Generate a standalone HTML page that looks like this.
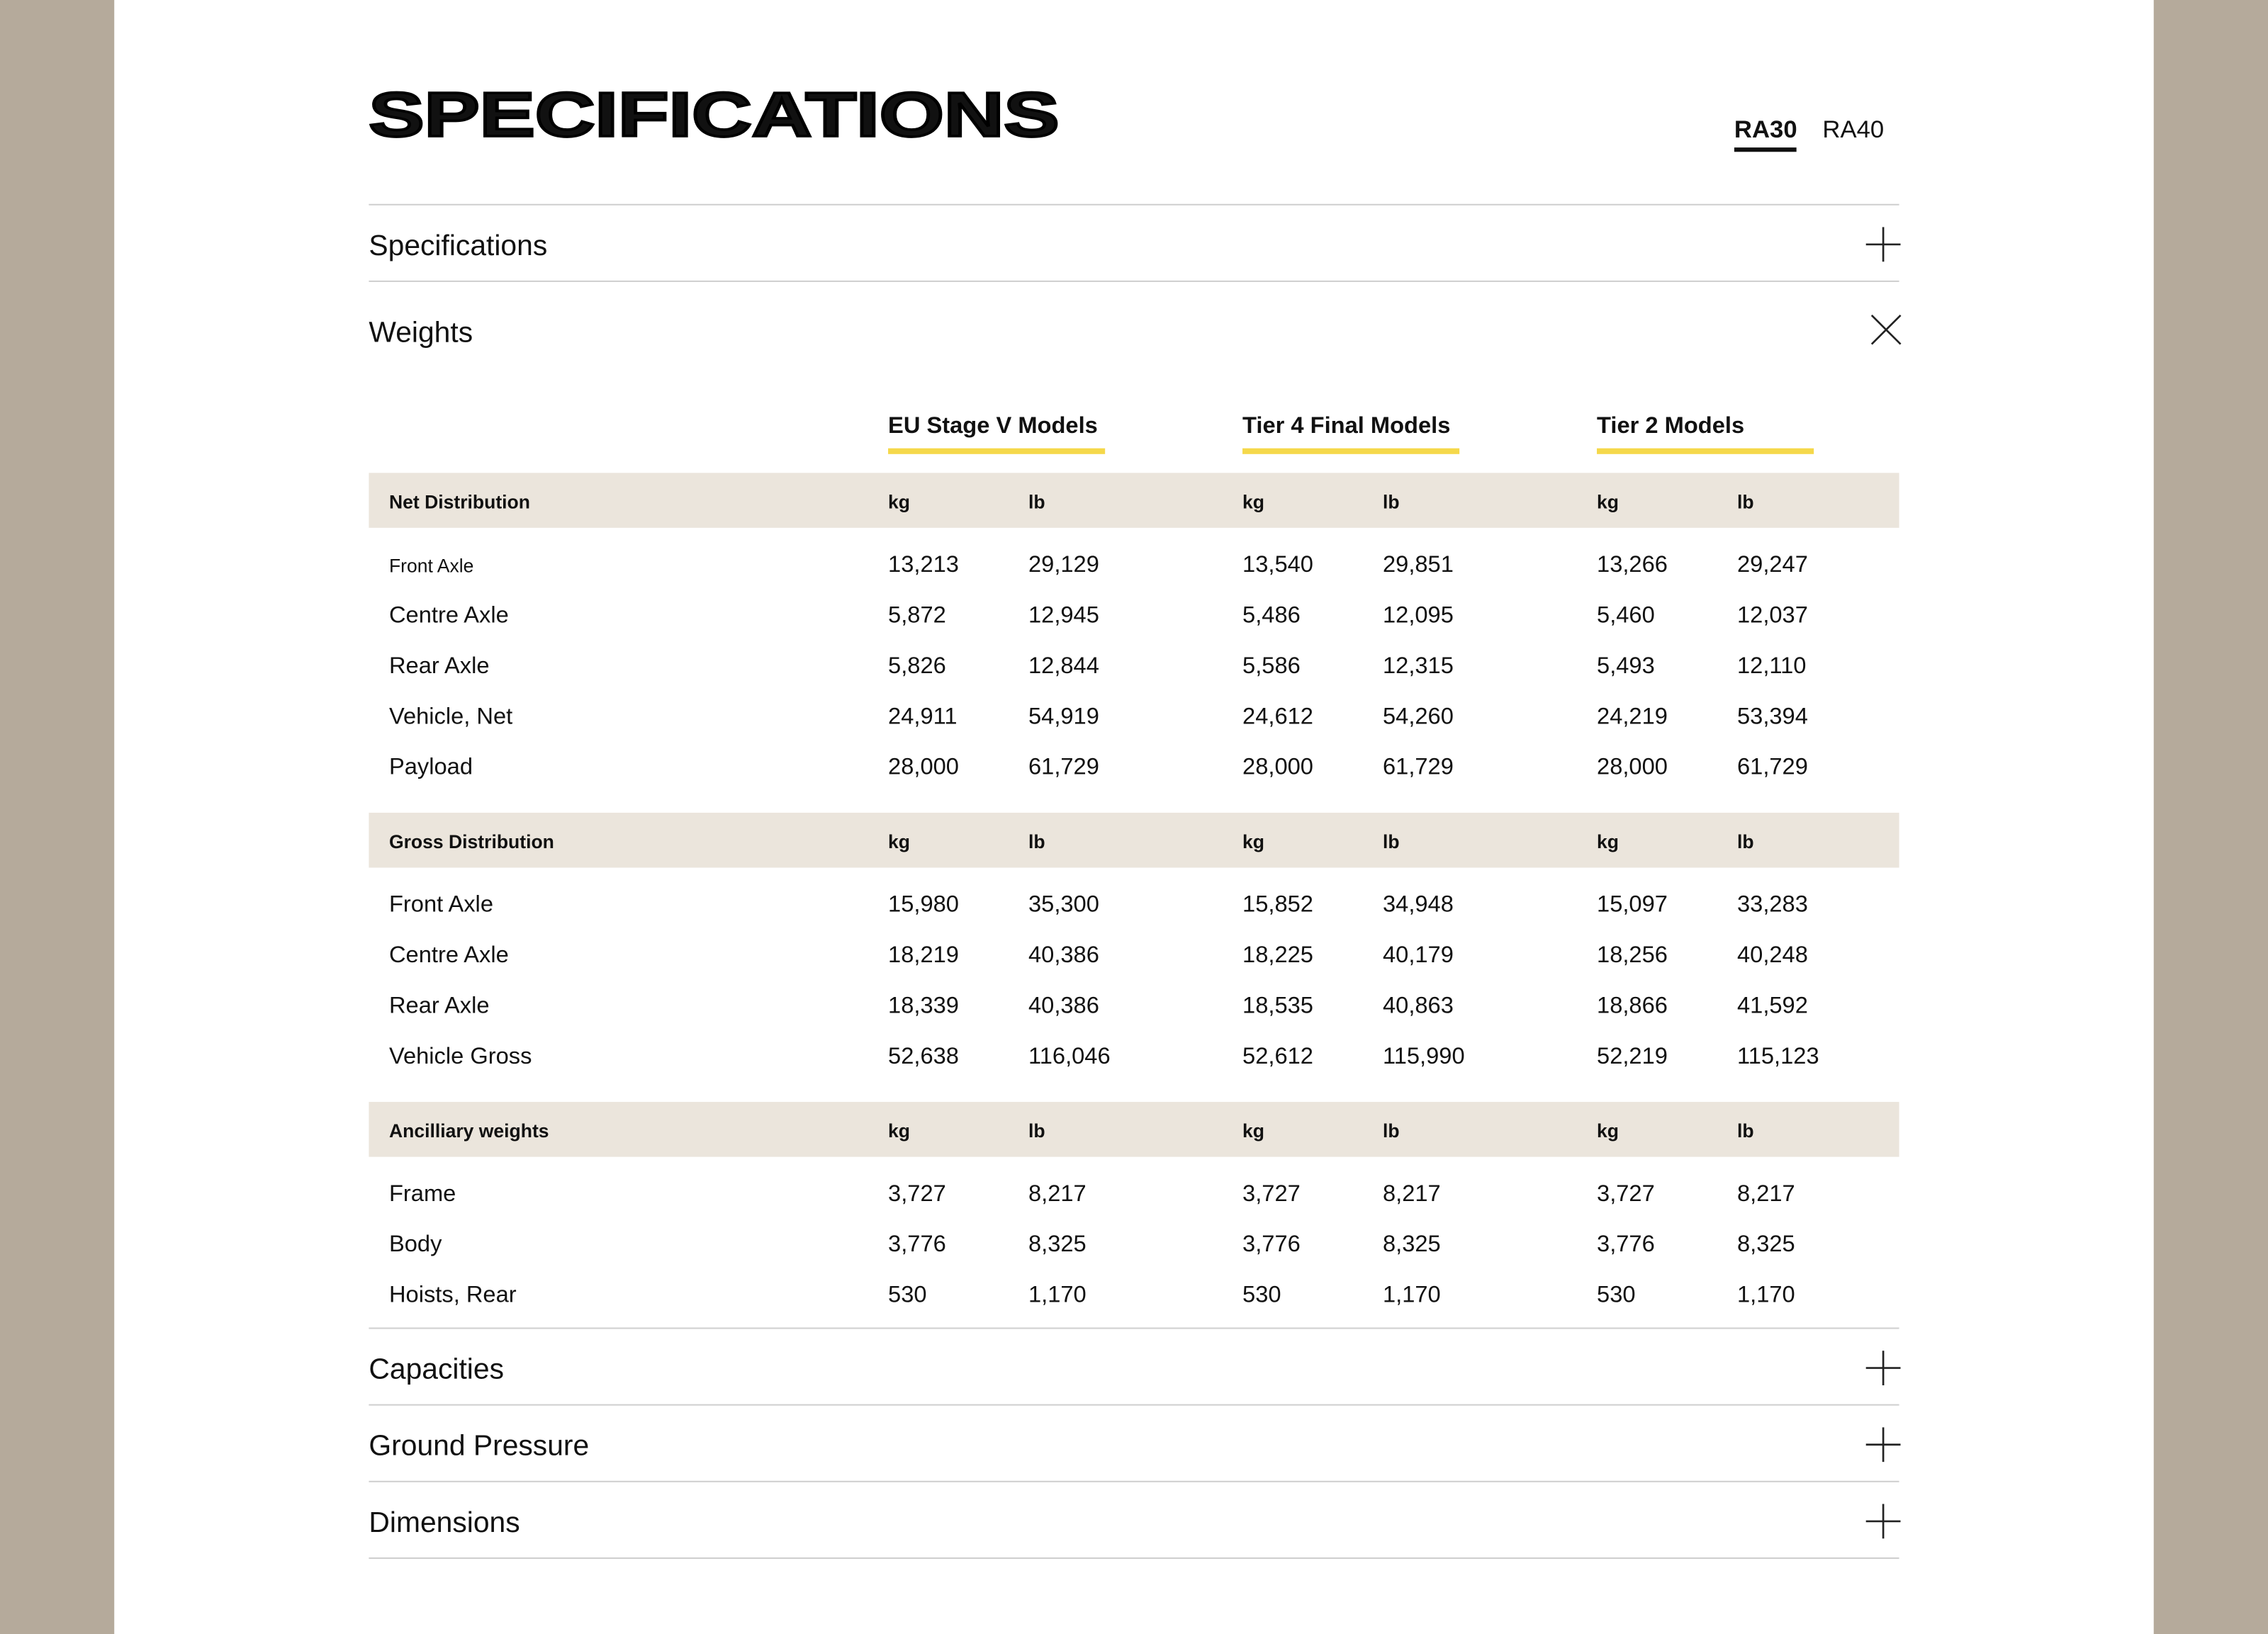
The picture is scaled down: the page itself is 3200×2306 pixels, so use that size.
<!DOCTYPE html>
<html><head><meta charset="utf-8"><style>
html,body{margin:0;padding:0;}
body{width:3200px;height:2306px;overflow:hidden;background:#b5aa9b;}
#w{position:absolute;left:0;top:0;width:1568px;height:1130px;transform:scale(2.0408);transform-origin:0 0;font-family:"Liberation Sans",sans-serif;color:#111;}
.panel{position:absolute;left:79px;top:0;width:1410px;height:1130px;background:#fff;}
.a{position:absolute;white-space:nowrap;}
.line{position:absolute;left:255px;width:1058px;height:1px;background:#cfcfcf;}
.band{position:absolute;left:255px;width:1058px;height:38px;background:#ebe5dc;}
.sec{font-size:20px;transform:translateY(-42%);}
.h{font-size:13px;font-weight:bold;transform:translateY(-50%);}
.d{font-size:16px;transform:translateY(-42%);}
.ul{position:absolute;height:4px;background:#f5d84a;width:150px;top:310px;}
.ch{font-size:16px;font-weight:bold;transform:translateY(-42%);}
</style></head><body><div id="w">
<div class="panel"></div>
<div class="a" style="left:255px;top:55px;font-size:43px;line-height:50px;font-weight:900;-webkit-text-stroke:1.8px #000;transform:scaleX(1.335);transform-origin:0 0;">SPECIFICATIONS</div>
<div class="a" style="left:1199px;top:80px;font-size:17px;font-weight:bold;">RA30</div>
<div class="a" style="left:1199px;top:102px;width:43px;height:3px;background:#111;"></div>
<div class="a" style="left:1260px;top:80px;font-size:17px;">RA40</div>
<div class="line" style="top:141px"></div>
<div class="a sec" style="left:255px;top:169px">Specifications</div>
<svg class="a" style="left:1290px;top:157px" width="24" height="24"><path d="M12 0V24M0 12H24" stroke="#222" stroke-width="1.3"/></svg>
<div class="line" style="top:194px"></div>
<div class="a sec" style="left:255px;top:229px">Weights</div>
<svg class="a" style="left:1293px;top:217px" width="22" height="22"><path d="M1 1L21 21M21 1L1 21" stroke="#222" stroke-width="1.3"/></svg>
<div class="a ch" style="left:614px;top:294px">EU Stage V Models</div>
<div class="a ch" style="left:859px;top:294px">Tier 4 Final Models</div>
<div class="a ch" style="left:1104px;top:294px">Tier 2 Models</div>
<div class="ul" style="left:614px"></div><div class="ul" style="left:859px"></div><div class="ul" style="left:1104px"></div>

<div class="band" style="top:327px"></div>
<div class="band" style="top:562px"></div>
<div class="band" style="top:762px"></div>

<div class="a h" style="left:269px;top:347px">Net Distribution</div>
<div class="a h" style="left:269px;top:582px">Gross Distribution</div>
<div class="a h" style="left:269px;top:782px">Ancilliary weights</div>

<div class="line" style="top:918px"></div>
<div class="a sec" style="left:255px;top:946px">Capacities</div>
<svg class="a" style="left:1290px;top:934px" width="24" height="24"><path d="M12 0V24M0 12H24" stroke="#222" stroke-width="1.3"/></svg>
<div class="line" style="top:971px"></div>
<div class="a sec" style="left:255px;top:999px">Ground Pressure</div>
<svg class="a" style="left:1290px;top:987px" width="24" height="24"><path d="M12 0V24M0 12H24" stroke="#222" stroke-width="1.3"/></svg>
<div class="line" style="top:1024px"></div>
<div class="a sec" style="left:255px;top:1052px">Dimensions</div>
<svg class="a" style="left:1290px;top:1040px" width="24" height="24"><path d="M12 0V24M0 12H24" stroke="#222" stroke-width="1.3"/></svg>
<div class="line" style="top:1077px"></div>

<div class="a h" style="left:614px;top:347px">kg</div><div class="a h" style="left:711px;top:347px">lb</div><div class="a h" style="left:859px;top:347px">kg</div><div class="a h" style="left:956px;top:347px">lb</div><div class="a h" style="left:1104px;top:347px">kg</div><div class="a h" style="left:1201px;top:347px">lb</div>
<div class="a h" style="left:614px;top:582px">kg</div><div class="a h" style="left:711px;top:582px">lb</div><div class="a h" style="left:859px;top:582px">kg</div><div class="a h" style="left:956px;top:582px">lb</div><div class="a h" style="left:1104px;top:582px">kg</div><div class="a h" style="left:1201px;top:582px">lb</div>
<div class="a h" style="left:614px;top:782px">kg</div><div class="a h" style="left:711px;top:782px">lb</div><div class="a h" style="left:859px;top:782px">kg</div><div class="a h" style="left:956px;top:782px">lb</div><div class="a h" style="left:1104px;top:782px">kg</div><div class="a h" style="left:1201px;top:782px">lb</div>

<div class="a d" style="left:269px;top:390px;font-size:13px">Front Axle</div><div class="a d" style="left:614px;top:390px">13,213</div><div class="a d" style="left:711px;top:390px">29,129</div><div class="a d" style="left:859px;top:390px">13,540</div><div class="a d" style="left:956px;top:390px">29,851</div><div class="a d" style="left:1104px;top:390px">13,266</div><div class="a d" style="left:1201px;top:390px">29,247</div>
<div class="a d" style="left:269px;top:425px">Centre Axle</div><div class="a d" style="left:614px;top:425px">5,872</div><div class="a d" style="left:711px;top:425px">12,945</div><div class="a d" style="left:859px;top:425px">5,486</div><div class="a d" style="left:956px;top:425px">12,095</div><div class="a d" style="left:1104px;top:425px">5,460</div><div class="a d" style="left:1201px;top:425px">12,037</div>
<div class="a d" style="left:269px;top:460px">Rear Axle</div><div class="a d" style="left:614px;top:460px">5,826</div><div class="a d" style="left:711px;top:460px">12,844</div><div class="a d" style="left:859px;top:460px">5,586</div><div class="a d" style="left:956px;top:460px">12,315</div><div class="a d" style="left:1104px;top:460px">5,493</div><div class="a d" style="left:1201px;top:460px">12,110</div>
<div class="a d" style="left:269px;top:495px">Vehicle, Net</div><div class="a d" style="left:614px;top:495px">24,911</div><div class="a d" style="left:711px;top:495px">54,919</div><div class="a d" style="left:859px;top:495px">24,612</div><div class="a d" style="left:956px;top:495px">54,260</div><div class="a d" style="left:1104px;top:495px">24,219</div><div class="a d" style="left:1201px;top:495px">53,394</div>
<div class="a d" style="left:269px;top:530px">Payload</div><div class="a d" style="left:614px;top:530px">28,000</div><div class="a d" style="left:711px;top:530px">61,729</div><div class="a d" style="left:859px;top:530px">28,000</div><div class="a d" style="left:956px;top:530px">61,729</div><div class="a d" style="left:1104px;top:530px">28,000</div><div class="a d" style="left:1201px;top:530px">61,729</div>

<div class="a d" style="left:269px;top:625px">Front Axle</div><div class="a d" style="left:614px;top:625px">15,980</div><div class="a d" style="left:711px;top:625px">35,300</div><div class="a d" style="left:859px;top:625px">15,852</div><div class="a d" style="left:956px;top:625px">34,948</div><div class="a d" style="left:1104px;top:625px">15,097</div><div class="a d" style="left:1201px;top:625px">33,283</div>
<div class="a d" style="left:269px;top:660px">Centre Axle</div><div class="a d" style="left:614px;top:660px">18,219</div><div class="a d" style="left:711px;top:660px">40,386</div><div class="a d" style="left:859px;top:660px">18,225</div><div class="a d" style="left:956px;top:660px">40,179</div><div class="a d" style="left:1104px;top:660px">18,256</div><div class="a d" style="left:1201px;top:660px">40,248</div>
<div class="a d" style="left:269px;top:695px">Rear Axle</div><div class="a d" style="left:614px;top:695px">18,339</div><div class="a d" style="left:711px;top:695px">40,386</div><div class="a d" style="left:859px;top:695px">18,535</div><div class="a d" style="left:956px;top:695px">40,863</div><div class="a d" style="left:1104px;top:695px">18,866</div><div class="a d" style="left:1201px;top:695px">41,592</div>
<div class="a d" style="left:269px;top:730px">Vehicle Gross</div><div class="a d" style="left:614px;top:730px">52,638</div><div class="a d" style="left:711px;top:730px">116,046</div><div class="a d" style="left:859px;top:730px">52,612</div><div class="a d" style="left:956px;top:730px">115,990</div><div class="a d" style="left:1104px;top:730px">52,219</div><div class="a d" style="left:1201px;top:730px">115,123</div>

<div class="a d" style="left:269px;top:825px">Frame</div><div class="a d" style="left:614px;top:825px">3,727</div><div class="a d" style="left:711px;top:825px">8,217</div><div class="a d" style="left:859px;top:825px">3,727</div><div class="a d" style="left:956px;top:825px">8,217</div><div class="a d" style="left:1104px;top:825px">3,727</div><div class="a d" style="left:1201px;top:825px">8,217</div>
<div class="a d" style="left:269px;top:860px">Body</div><div class="a d" style="left:614px;top:860px">3,776</div><div class="a d" style="left:711px;top:860px">8,325</div><div class="a d" style="left:859px;top:860px">3,776</div><div class="a d" style="left:956px;top:860px">8,325</div><div class="a d" style="left:1104px;top:860px">3,776</div><div class="a d" style="left:1201px;top:860px">8,325</div>
<div class="a d" style="left:269px;top:895px">Hoists, Rear</div><div class="a d" style="left:614px;top:895px">530</div><div class="a d" style="left:711px;top:895px">1,170</div><div class="a d" style="left:859px;top:895px">530</div><div class="a d" style="left:956px;top:895px">1,170</div><div class="a d" style="left:1104px;top:895px">530</div><div class="a d" style="left:1201px;top:895px">1,170</div>
</div></body></html>
